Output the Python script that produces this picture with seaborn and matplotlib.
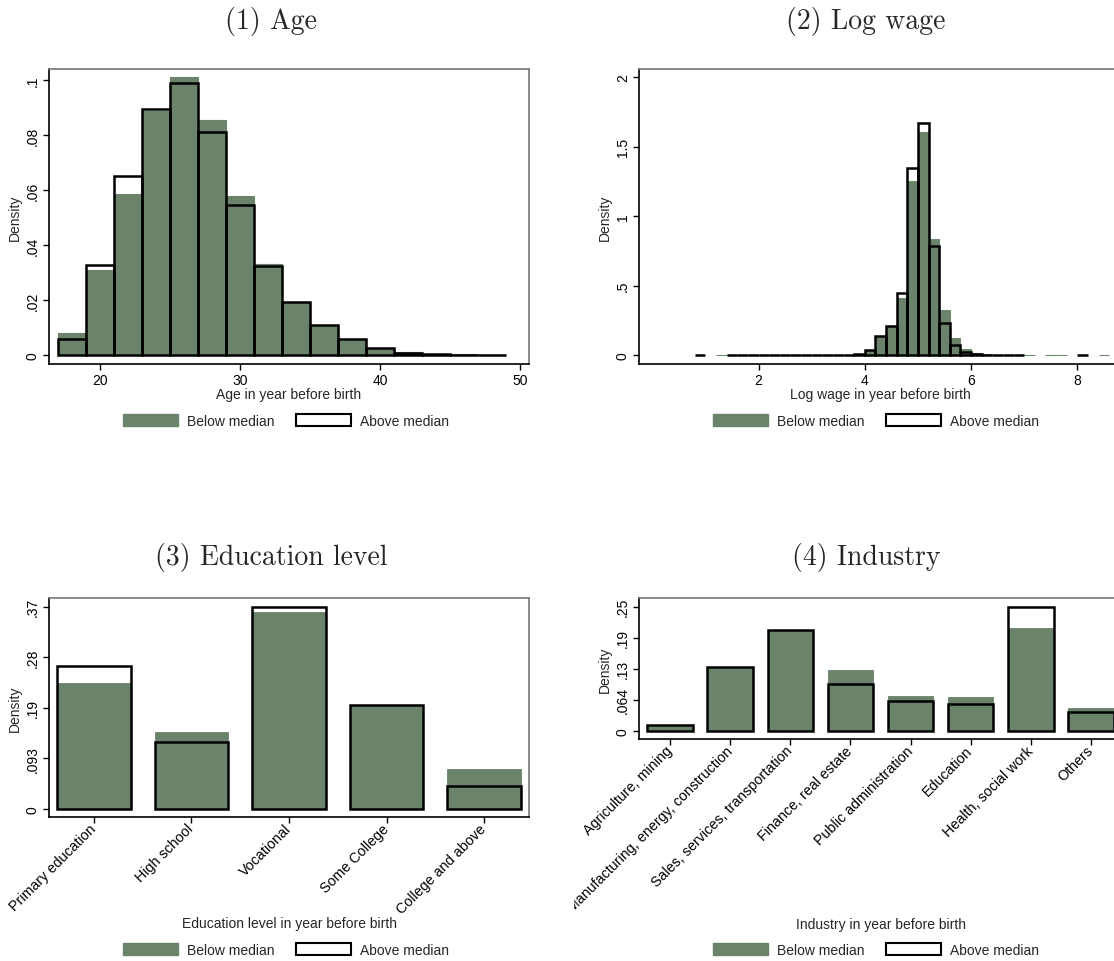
import matplotlib
matplotlib.use("Agg")
import matplotlib.pyplot as plt
import seaborn as sns
from matplotlib.patches import Patch
from matplotlib.transforms import Bbox, TransformedBbox

# ---------------- data ----------------
# (1) Age: bin centres, bins of width 2
age_bins = [18, 20, 22, 24, 26, 28, 30, 32, 34, 36, 38, 40, 42, 44, 46, 48]
age_below = [0.0080, 0.0309, 0.0587, 0.0886, 0.1011, 0.0855, 0.0578, 0.0330,
             0.0194, 0.0110, 0.0059, 0.0025, 0.0010, 0.0004, 0.0002, 0.0001]
age_above = [0.0058, 0.0328, 0.0651, 0.0895, 0.0988, 0.0811, 0.0544, 0.0325,
             0.0193, 0.0108, 0.0058, 0.0024, 0.0007, 0.0002, 0.0001, 0.0001]

# (2) Log wage: bin centres, bins of width 0.2
wage_bins = [1.5, 1.7, 1.9, 2.1, 2.3, 2.5, 2.7, 2.9, 3.1, 3.3, 3.5, 3.7, 3.9, 4.1,
             4.3, 4.5, 4.7, 4.9, 5.1, 5.3, 5.5, 5.7, 5.9, 6.1, 6.3, 6.5, 6.7, 6.9]
wage_below = [0, 0, 0, 0, 0, 0, 0, 0.0005, 0.001, 0.001, 0.002, 0.003, 0.005, 0.036,
              0.135, 0.205, 0.410, 1.253, 1.604, 0.833, 0.327, 0.120, 0.041, 0.012,
              0.004, 0.002, 0.001, 0.001]
wage_above = [0.001, 0.0005, 0, 0.0005, 0.0005, 0.001, 0.001, 0.001, 0.001, 0.002,
              0.002, 0.003, 0.005, 0.038, 0.139, 0.211, 0.449, 1.347, 1.669, 0.785,
              0.233, 0.070, 0.022, 0.007, 0.003, 0.002, 0.001, 0.001]
# empty outlying bins (show up as flat dashes on the zero line)
wage_below_out_lo = [1.3]
wage_below_out_hi = [7.1, 7.5, 7.7, 8.5]
wage_above_out_lo = [0.9]
wage_above_out_hi = [8.1]

# (3) Education level
edu_levels = ["Primary education", "High school", "Vocational", "Some College",
              "College and above"]
edu_below = [0.230, 0.1416, 0.3608, 0.191, 0.0727]
edu_above = [0.263, 0.1233, 0.370, 0.191, 0.0421]
edu_ticks = [0, 0.0928, 0.1855, 0.2783, 0.371]
edu_ticklabels = ["0", ".093", ".19", ".28", ".37"]

# (4) Industry
industries = ["Agriculture, mining", "Manufacturing, energy, construction",
              "Sales, services, transportation", "Finance, real estate",
              "Public administration", "Education", "Health, social work", "Others"]
ind_below = [0.012, 0.1304, 0.2069, 0.1243, 0.0703, 0.0696, 0.211, 0.0471]
ind_above = [0.0123, 0.1304, 0.2069, 0.0963, 0.0601, 0.0546, 0.254, 0.0389]
ind_ticks = [0, 0.0635, 0.127, 0.1905, 0.254]
ind_ticklabels = ["0", ".064", ".13", ".19", ".25"]

GREEN = "#6b836b"
W, H = 1114, 962

sns.set_theme(style="ticks")
plt.rcParams["font.family"] = ["Liberation Sans", "DejaVu Sans"]
plt.rcParams["font.size"] = 10


def style_axes(ax):
    for side in ["left", "bottom"]:
        ax.spines[side].set_color("black")
        ax.spines[side].set_linewidth(1.2)
    for side in ["top", "right"]:
        ax.spines[side].set_color("#777777")
        ax.spines[side].set_linewidth(1.2)
    ax.tick_params(axis="both", length=4, width=1, color="black", labelsize=10,
                   pad=2.5, labelcolor="black")
    ax.tick_params(axis="y", labelrotation=90)
    plt.setp(ax.get_yticklabels(), va="center")
    ax.set_ylabel("Density", fontsize=10, labelpad=3)


def hist_pair(ax, below_x, below_y, above_x, above_y, below_edge=GREEN):
    # native_scale keeps the numeric x axis, width=1 -> one bin wide
    sns.barplot(x=below_x, y=below_y, native_scale=True, width=1, color=GREEN,
                saturation=1, edgecolor=below_edge, linewidth=0.8, errorbar=None, ax=ax)
    sns.barplot(x=above_x, y=above_y, native_scale=True, width=1, color="black",
                saturation=1, fill=False, linewidth=1.8, errorbar=None, ax=ax)


def add_legend(ax, cx, cy):
    handles = [Patch(facecolor=GREEN, edgecolor=GREEN),
               Patch(facecolor="white", edgecolor="black", linewidth=1.5)]
    ax.legend(handles, ["Below median", "Above median"], loc="center",
              bbox_to_anchor=(cx / W, 1 - cy / H), bbox_transform=fig.transFigure,
              ncol=2, frameon=False, handlelength=3.9, handleheight=0.95,
              handletextpad=0.65, columnspacing=1.6, fontsize=10)


def px_axes(x0, x1, y0, y1):
    return fig.add_axes([x0 / W, 1 - y1 / H, (x1 - x0) / W, (y1 - y0) / H])


fig = plt.figure(figsize=(W / 100, H / 100), dpi=100)
fig.patch.set_facecolor("white")

ax1 = px_axes(49, 529, 70, 365)
ax2 = px_axes(639, 1122, 70, 365)   # right edge runs off the picture, as in the original
ax3 = px_axes(49, 529, 599, 818)
ax4 = px_axes(639, 1122, 599, 740)

# ---- (1) Age ----
hist_pair(ax1, age_bins, age_below, age_bins, age_above)
ax1.set_xlim(16.36, 50.64)
ax1.set_ylim(-0.0033, 0.104)
ax1.set_xticks([20, 30, 40, 50], ["20", "30", "40", "50"])
ax1.set_yticks([0, 0.02, 0.04, 0.06, 0.08, 0.1], ["0", ".02", ".04", ".06", ".08", ".1"])
ax1.set_xlabel("Age in year before birth", fontsize=10)
ax1.xaxis.set_label_coords(0.5, -0.078)
style_axes(ax1)
add_legend(ax1, 286, 422)

# ---- (2) Log wage ----
w_below_x = wage_below_out_lo + wage_bins + wage_below_out_hi
w_below_y = [0] * len(wage_below_out_lo) + wage_below + [0] * len(wage_below_out_hi)
w_above_x = wage_above_out_lo + wage_bins + wage_above_out_hi
w_above_y = [0] * len(wage_above_out_lo) + wage_above + [0] * len(wage_above_out_hi)
hist_pair(ax2, w_below_x, w_below_y, w_above_x, w_above_y, below_edge="#6f8c6f")
ax2.set_xlim(-0.25, 8.84)
ax2.set_ylim(-0.065, 2.06)
ax2.set_xticks([2, 4, 6, 8], ["2", "4", "6", "8"])
ax2.set_yticks([0, 0.5, 1, 1.5, 2], ["0", ".5", "1", "1.5", "2"])
ax2.set_xlabel("Log wage in year before birth", fontsize=10)
ax2.xaxis.set_label_coords(0.5, -0.078)
style_axes(ax2)
add_legend(ax2, 876, 422)

# ---- (3) Education level ----
sns.barplot(x=edu_levels, y=edu_below, color=GREEN, saturation=1, width=0.755,
            edgecolor=GREEN, linewidth=0.6, errorbar=None, ax=ax3)
sns.barplot(x=edu_levels, y=edu_above, color="black", saturation=1, width=0.755,
            fill=False, linewidth=1.8, errorbar=None, ax=ax3)
ax3.set_xlim(-0.46, 4.46)
ax3.set_ylim(-0.0152, 0.387)
ax3.set_yticks(edu_ticks, edu_ticklabels)
ax3.set_xlabel("Education level in year before birth", fontsize=10)
style_axes(ax3)
ax3.xaxis.set_label_coords(0.5, -0.452)
plt.setp(ax3.get_xticklabels(), rotation=45, ha="right", va="center",
         rotation_mode="anchor", fontsize=10.3)
add_legend(ax3, 286, 951)

# ---- (4) Industry ----
sns.barplot(x=industries, y=ind_below, color=GREEN, saturation=1, width=0.76,
            edgecolor=GREEN, linewidth=0.6, errorbar=None, ax=ax4)
sns.barplot(x=industries, y=ind_above, color="black", saturation=1, width=0.76,
            fill=False, linewidth=1.8, errorbar=None, ax=ax4)
ax4.set_xlim(-0.52, 7.52)
ax4.set_ylim(-0.017, 0.272)
ax4.set_yticks(ind_ticks, ind_ticklabels)
ax4.set_xlabel("Industry in year before birth", fontsize=10)
style_axes(ax4)
ax4.xaxis.set_label_coords(0.5, -1.262)
# long labels are cut at the edge of the panel, like in the original
clip = TransformedBbox(Bbox([[574 / W, 0], [1, 1]]), fig.transFigure)
for lab in ax4.get_xticklabels():
    lab.set_rotation(45)
    lab.set_ha("right")
    lab.set_va("center")
    lab.set_rotation_mode("anchor")
    lab.set_fontsize(10.3)
    lab.set_clip_on(True)
    lab.set_clip_box(clip)
add_legend(ax4, 876, 951)

# ---- panel titles ----
for x, y, title in [(271, 21, "(1) Age"), (866, 21, "(2) Log wage"),
                    (271, 557, "(3) Education level"), (866, 557, "(4) Industry")]:
    fig.text(x / W, 1 - y / H, title, ha="center", va="center",
             fontsize=20, family="cmr10")

fig.savefig("out.png", dpi=100)
